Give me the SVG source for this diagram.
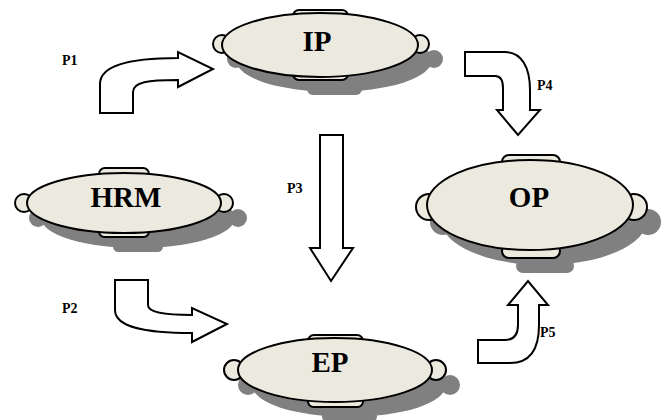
<svg xmlns="http://www.w3.org/2000/svg" xmlns:xlink="http://www.w3.org/1999/xlink" width="667" height="420" viewBox="0 0 667 420">
  <style>
    .dish { fill: #ECEADF; stroke: #000; stroke-width: 2; }
    .shadow { fill: #808080; stroke: none; }
    .title { font-family: "Liberation Serif", "Times New Roman", serif; font-weight: bold; font-size: 29px; fill: #000; text-anchor: middle; }
    .lbl { font-family: "Liberation Serif", "Times New Roman", serif; font-weight: bold; font-size: 14px; fill: #000; }
    .arrow { fill: #fff; stroke: #000; stroke-width: 2; stroke-linejoin: miter; }
  </style>
  <defs>
    <!-- dish shapes: handles first, body on top; fill comes from the using group -->
    <g id="shape-ip">
      <rect x="293" y="10" width="55" height="12" rx="6"/>
      <rect x="293" y="68" width="55" height="12" rx="6"/>
      <circle cx="222" cy="44" r="9"/>
      <circle cx="420" cy="44" r="9"/>
      <ellipse cx="320" cy="45" rx="98" ry="32"/>
    </g>
    <g id="shape-hrm">
      <rect x="99" y="168" width="50" height="12" rx="6"/>
      <rect x="99" y="226" width="50" height="11" rx="5.5"/>
      <circle cx="24" cy="203" r="9"/>
      <circle cx="224" cy="203" r="9"/>
      <ellipse cx="124" cy="203" rx="97" ry="30"/>
    </g>
    <g id="shape-op">
      <rect x="502" y="155" width="58" height="14" rx="7"/>
      <rect x="502" y="244" width="58" height="14" rx="7"/>
      <circle cx="429" cy="207" r="13"/>
      <circle cx="634" cy="207" r="13"/>
      <ellipse cx="530" cy="205" rx="103" ry="45"/>
    </g>
    <g id="shape-ep">
      <rect x="308" y="335" width="55" height="12" rx="6"/>
      <rect x="308" y="396" width="55" height="11" rx="5.5"/>
      <circle cx="234" cy="370" r="10"/>
      <circle cx="436" cy="370" r="10"/>
      <ellipse cx="335" cy="370" rx="97" ry="32"/>
    </g>
  </defs>

  <g id="IP">
    <use xlink:href="#shape-ip" href="#shape-ip" class="shadow" transform="translate(14,15)"/>
    <use xlink:href="#shape-ip" href="#shape-ip" class="dish"/>
    <text class="title" x="317" y="51">IP</text>
  </g>

  <g id="HRM">
    <use xlink:href="#shape-hrm" href="#shape-hrm" class="shadow" transform="translate(14,15)"/>
    <use xlink:href="#shape-hrm" href="#shape-hrm" class="dish"/>
    <text class="title" x="126" y="207">HRM</text>
  </g>

  <g id="OP">
    <use xlink:href="#shape-op" href="#shape-op" class="shadow" transform="translate(14,15)"/>
    <use xlink:href="#shape-op" href="#shape-op" class="dish"/>
    <text class="title" x="529" y="207">OP</text>
  </g>

  <g id="EP">
    <use xlink:href="#shape-ep" href="#shape-ep" class="shadow" transform="translate(14,15)"/>
    <use xlink:href="#shape-ep" href="#shape-ep" class="dish"/>
    <text class="title" x="330" y="372">EP</text>
  </g>

  <g id="connectors">
    <!-- P1: bent arrow up and right toward IP -->
    <path class="arrow" d="M100,113 L100,84 C100,66 128,58 178,58 L178,52 L213,69 L178,87 L178,80 C148,80 133,82 133,92 L133,113 Z"/>
    <!-- P2: bent arrow down and right toward EP -->
    <path class="arrow" d="M115,280 L148,280 L148,305 C148,312 162,315 192,315 L192,308 L227,324 L192,342 L192,333 C148,333 115,328 115,310 Z"/>
    <!-- P3: straight arrow down from IP to EP -->
    <path class="arrow" d="M320,135 L343,135 L343,248 L353,248 L331,281 L310,248 L320,248 Z"/>
    <!-- P4: bent arrow right and down toward OP -->
    <path class="arrow" d="M465,52 L505,52 C522,52 530,68 530,90 L530,110 L540,110 L518,135 L497,110 L503,110 L503,88 C503,80 500,76 495,76 L465,76 Z"/>
    <!-- P5: bent arrow right and up toward OP -->
    <path class="arrow" d="M478,363 L478,340 L505,340 C514,340 518,335 518,325 L518,305 L508,305 L528,281 L548,305 L539,305 L539,325 C539,350 530,363 510,363 Z"/>
    <text class="lbl" x="62" y="65">P1</text>
    <text class="lbl" x="62" y="313">P2</text>
    <text class="lbl" x="287" y="193">P3</text>
    <text class="lbl" x="537" y="90">P4</text>
    <text class="lbl" x="540" y="337">P5</text>
  </g>
</svg>
